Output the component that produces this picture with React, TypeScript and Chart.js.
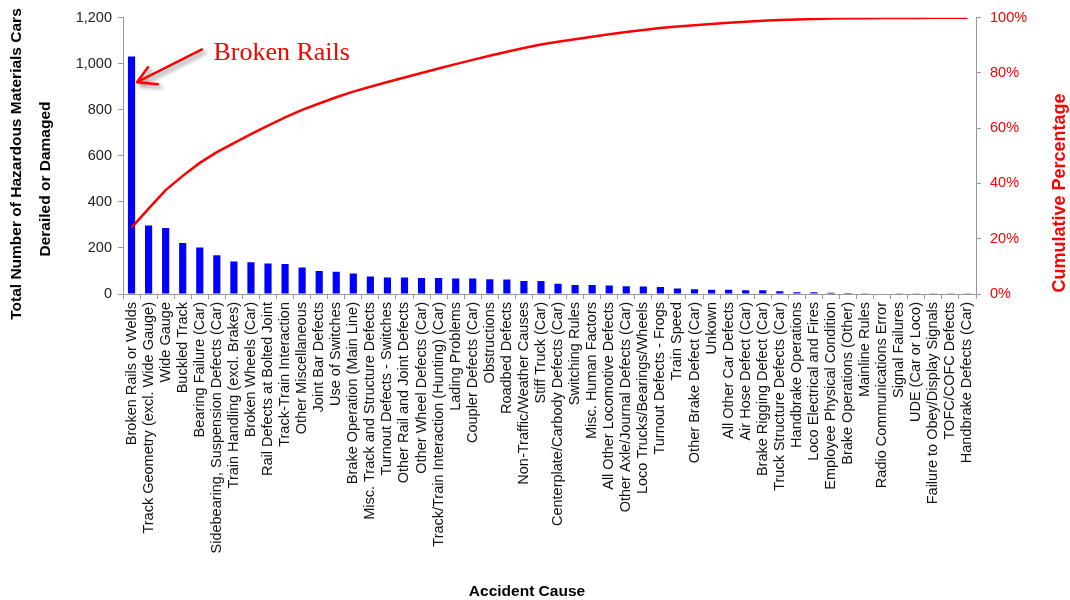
import React, { useEffect, useRef } from "react";
import { Chart, registerables } from "chart.js";

Chart.register(...registerables);

const categories = [
  "Broken Rails or Welds",
  "Track Geometry (excl. Wide Gauge)",
  "Wide Gauge",
  "Buckled Track",
  "Bearing Failure (Car)",
  "Sidebearing, Suspension Defects (Car)",
  "Train Handling (excl. Brakes)",
  "Broken Wheels (Car)",
  "Rail Defects at Bolted Joint",
  "Track-Train Interaction",
  "Other Miscellaneous",
  "Joint Bar Defects",
  "Use of Switches",
  "Brake Operation (Main Line)",
  "Misc. Track and Structure Defects",
  "Turnout Defects - Switches",
  "Other Rail and Joint Defects",
  "Other Wheel Defects (Car)",
  "Track/Train Interaction (Hunting) (Car)",
  "Lading Problems",
  "Coupler Defects (Car)",
  "Obstructions",
  "Roadbed Defects",
  "Non-Traffic/Weather Causes",
  "Stiff Truck (Car)",
  "Centerplate/Carbody Defects (Car)",
  "Switching Rules",
  "Misc. Human Factors",
  "All Other Locomotive Defects",
  "Other Axle/Journal Defects (Car)",
  "Loco Trucks/Bearings/Wheels",
  "Turnout Defects - Frogs",
  "Train Speed",
  "Other Brake Defect (Car)",
  "Unkown",
  "All Other Car Defects",
  "Air Hose Defect (Car)",
  "Brake Rigging Defect (Car)",
  "Truck Structure Defects (Car)",
  "Handbrake Operations",
  "Loco Electrical and Fires",
  "Employee Physical Condition",
  "Brake Operations (Other)",
  "Mainline Rules",
  "Radio Communications Error",
  "Signal Failures",
  "UDE (Car or Loco)",
  "Failure to Obey/Display Signals",
  "TOFC/COFC Defects",
  "Handbrake Defects (Car)",
];

const hazmatCars = [
  1032, 298, 287, 222, 202, 168, 141, 138, 132, 130,
  115, 100, 97, 89, 76, 72, 72, 70, 70, 67,
  67, 64, 63, 56, 56, 44, 39, 39, 37, 34,
  33, 30, 24, 21, 19, 18, 16, 16, 12, 8,
  8, 5, 4, 3, 2, 1, 1, 1, 1, 1,
];

const total = hazmatCars.reduce((a, b) => a + b, 0);
const cumulativePct: number[] = [];
hazmatCars.reduce((acc, v) => {
  const next = acc + v;
  cumulativePct.push((next / total) * 100);
  return next;
}, 0);

const leftTitleLines = ["Total Number of Hazardous Materials Cars", "Derailed or Damaged"];
const rightTitle = "Cumulative Percentage";
const xTitle = "Accident Cause";
const annotationText = "Broken Rails";

const SANS = '"Liberation Sans", Arial, Helvetica, sans-serif';
const SERIF = '"Liberation Serif", "Times New Roman", Times, serif';

const drawRotated = (ctx: CanvasRenderingContext2D, text: string, cx: number, cy: number) => {
  ctx.save();
  ctx.translate(cx, cy);
  ctx.rotate(-Math.PI / 2);
  ctx.fillText(text, 0, 0);
  ctx.restore();
};

const customTextPlugin = {
  id: "customText",
  afterDraw(chart: any) {
    const { ctx, scales } = chart;
    const x = scales.x;
    const y = scales.y;
    ctx.save();
    // Left axis title
    ctx.fillStyle = "#000000";
    ctx.font = `bold 15.5px ${SANS}`;
    ctx.textAlign = "center";
    ctx.textBaseline = "middle";
    drawRotated(ctx, leftTitleLines[0], 17, 164);
    drawRotated(ctx, leftTitleLines[1], 46, 179);
    // Right axis title
    ctx.fillStyle = "#FF0000";
    ctx.font = `bold 18px ${SANS}`;
    drawRotated(ctx, rightTitle, 1060, 193);
    // X axis title
    ctx.fillStyle = "#000000";
    ctx.font = `bold 15.5px ${SANS}`;
    ctx.textBaseline = "alphabetic";
    ctx.fillText(xTitle, 527, 596);

    // Annotation arrow
    const tipX = x.getPixelForValue(0.32);
    const tipY = y.getPixelForValue(920);
    const sX = x.getPixelForValue(4.13);
    const sY = y.getPixelForValue(1062);
    ctx.save();
    ctx.strokeStyle = "#FF0000";
    ctx.lineWidth = 2.5;
    ctx.lineCap = "round";
    ctx.lineJoin = "round";
    ctx.shadowColor = "rgba(0,0,0,0.45)";
    ctx.shadowBlur = 4;
    ctx.shadowOffsetX = 3;
    ctx.shadowOffsetY = 3;
    ctx.beginPath();
    ctx.moveTo(sX, sY);
    ctx.lineTo(tipX, tipY);
    ctx.moveTo(tipX + 11, tipY - 15);
    ctx.lineTo(tipX, tipY);
    ctx.lineTo(tipX + 21, tipY + 2);
    ctx.stroke();
    ctx.restore();

    ctx.fillStyle = "#FF0000";
    ctx.font = `26px ${SERIF}`;
    ctx.textAlign = "left";
    ctx.textBaseline = "alphabetic";
    ctx.fillText(annotationText, x.getPixelForValue(4.8), y.getPixelForValue(1018));
    ctx.restore();
  },
};

export default function App() {
  const canvasRef = useRef<HTMLCanvasElement | null>(null);

  useEffect(() => {
    if (!canvasRef.current) return;
    const chart = new Chart(canvasRef.current, {
      type: "bar",
      data: {
        labels: categories,
        datasets: [
          {
            type: "line",
            label: "Cumulative Percentage",
            data: cumulativePct,
            yAxisID: "y1",
            borderColor: "#FF0000",
            backgroundColor: "#FF0000",
            borderWidth: 2.5,
            pointRadius: 0,
            tension: 0,
            order: 0,
          } as any,
          {
            type: "bar",
            label: "Hazardous Materials Cars",
            data: hazmatCars,
            yAxisID: "y",
            backgroundColor: "#0000FF",
            barPercentage: 0.42,
            categoryPercentage: 1,
            order: 1,
          },
        ],
      },
      options: {
        responsive: false,
        animation: false,
        layout: { padding: { top: 15, left: 0, right: 0, bottom: 0 } },
        plugins: {
          legend: { display: false },
          tooltip: { enabled: false },
        },
        scales: {
          x: {
            offset: true,
            grid: {
              display: true,
              drawOnChartArea: false,
              offset: true,
              tickLength: 5,
              color: "#999999",
            },
            border: { display: true, color: "#999999" },
            ticks: {
              autoSkip: false,
              minRotation: 90,
              maxRotation: 90,
              padding: 3,
              color: "#111111",
              font: { family: SANS, size: 14.5 },
            },
            afterFit: (scale: any) => {
              scale.height = 306;
            },
          },
          y: {
            position: "left",
            min: 0,
            max: 1200,
            ticks: {
              stepSize: 200,
              padding: 6,
              color: "#222222",
              font: { family: SANS, size: 14.5 },
            },
            grid: {
              display: true,
              drawOnChartArea: false,
              tickLength: 5,
              color: "#999999",
            },
            border: { display: true, color: "#999999" },
            afterFit: (scale: any) => {
              scale.width = 123;
            },
          },
          y1: {
            position: "right",
            min: 0,
            max: 100,
            ticks: {
              stepSize: 20,
              padding: 9,
              color: "#FF0000",
              font: { family: SANS, size: 14.5 },
              callback: (v: any) => `${v}%`,
            },
            grid: {
              display: true,
              drawOnChartArea: false,
              tickLength: 5,
              color: "#999999",
            },
            border: { display: true, color: "#999999" },
            afterFit: (scale: any) => {
              scale.width = 94;
            },
          },
        },
      },
      plugins: [customTextPlugin],
    });
    return () => chart.destroy();
  }, []);

  return (
    <div style={{ position: "fixed", left: 0, top: 0, width: 1070, height: 600, background: "#ffffff" }}>
      <canvas ref={canvasRef} width={1070} height={600} style={{ display: "block" }} />
    </div>
  );
}
